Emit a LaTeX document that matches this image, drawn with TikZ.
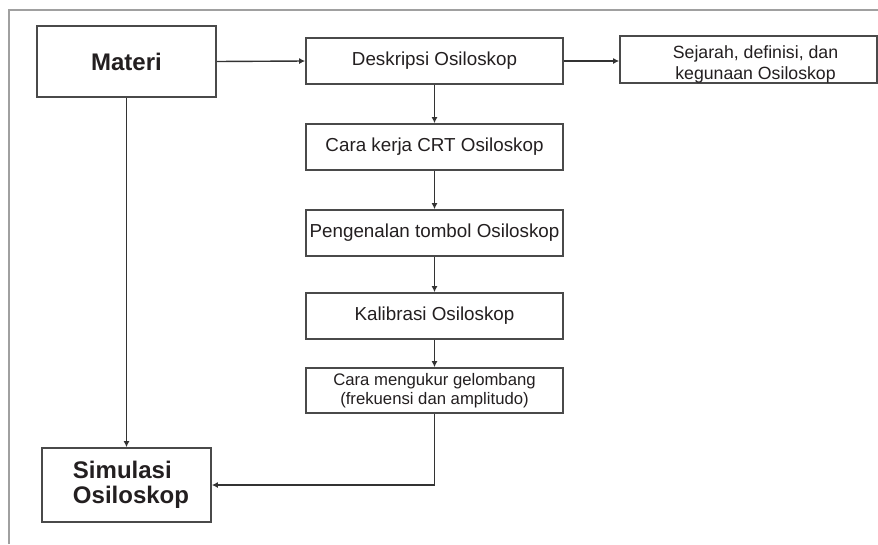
\documentclass[tikz,border=0pt]{standalone}
\usepackage{fontspec}
\setmainfont{Liberation Sans}
\usetikzlibrary{arrows.meta}
\definecolor{ink}{HTML}{231F20}
\definecolor{edge}{HTML}{4A4A4A}
\definecolor{wire}{HTML}{333333}
\definecolor{frame}{HTML}{A0A0A0}
\tikzset{
  box/.style={draw=edge, line width=1.7pt, fill=white, inner sep=0pt,
    text=ink, align=center, minimum width=257pt, minimum height=46pt},
  mainfont/.style={font=\fontsize{18.8}{22}\selectfont},
  smallfont/.style={font=\fontsize{16.7}{18.5}\selectfont},
  bigbox/.style={box, font=\fontsize{24}{25.5}\selectfont\bfseries},
  flow/.style={draw=wire, line width=1.4pt, -{Latex[length=6pt,width=6pt]}}
}
\begin{document}
\begin{tikzpicture}[x=1pt,y=-1pt]
  \useasboundingbox (0,0) rectangle (878,544);
  % outer frame: left and top edges only
  \draw[frame, line width=1.6pt] (9,544) -- (9,10) -- (878,10);

  % left column
  \node[bigbox, minimum width=179pt, minimum height=71pt] (materi) at (126.5,61.5) {Materi};
  \node[bigbox, minimum width=169pt, minimum height=74pt, align=left] (sim) at (126.5,485)
    {\hspace*{9pt}Simulasi\\\hspace*{9pt}Osiloskop};

  % middle column
  \node[box, mainfont] (desk) at (434.5,61) {Deskripsi Osiloskop};
  \node[box, mainfont] (crt)  at (434.5,147) {Cara kerja CRT Osiloskop};
  \node[box, mainfont] (tomb) at (434.5,233) {Pengenalan tombol Osiloskop};
  \node[box, mainfont] (kal)  at (434.5,316) {Kalibrasi Osiloskop};
  \node[box, smallfont, minimum height=45pt] (ukur) at (434.5,390.5)
    {Cara mengukur gelombang\\(frekuensi dan amplitudo)};

  % right column
  \node[box, font=\fontsize{17.7}{21}\selectfont, minimum height=47pt] (sej) at (748.5,59.5)
    {\rule{0pt}{22pt}\hspace*{14pt}Sejarah, definisi, dan\\\hspace*{14pt}kegunaan Osiloskop};

  % connectors
  \draw[flow] (materi.east) -- (desk.west);
  \draw[flow] (desk.east) -- (desk.east -| sej.west);
  \draw[flow] (desk) -- (crt);
  \draw[flow] (crt) -- (tomb);
  \draw[flow] (tomb) -- (kal);
  \draw[flow] (kal) -- (ukur);
  \draw[flow] (materi) -- (sim);
  \draw[flow] (ukur.south) |- (sim.east);
\end{tikzpicture}
\end{document}
